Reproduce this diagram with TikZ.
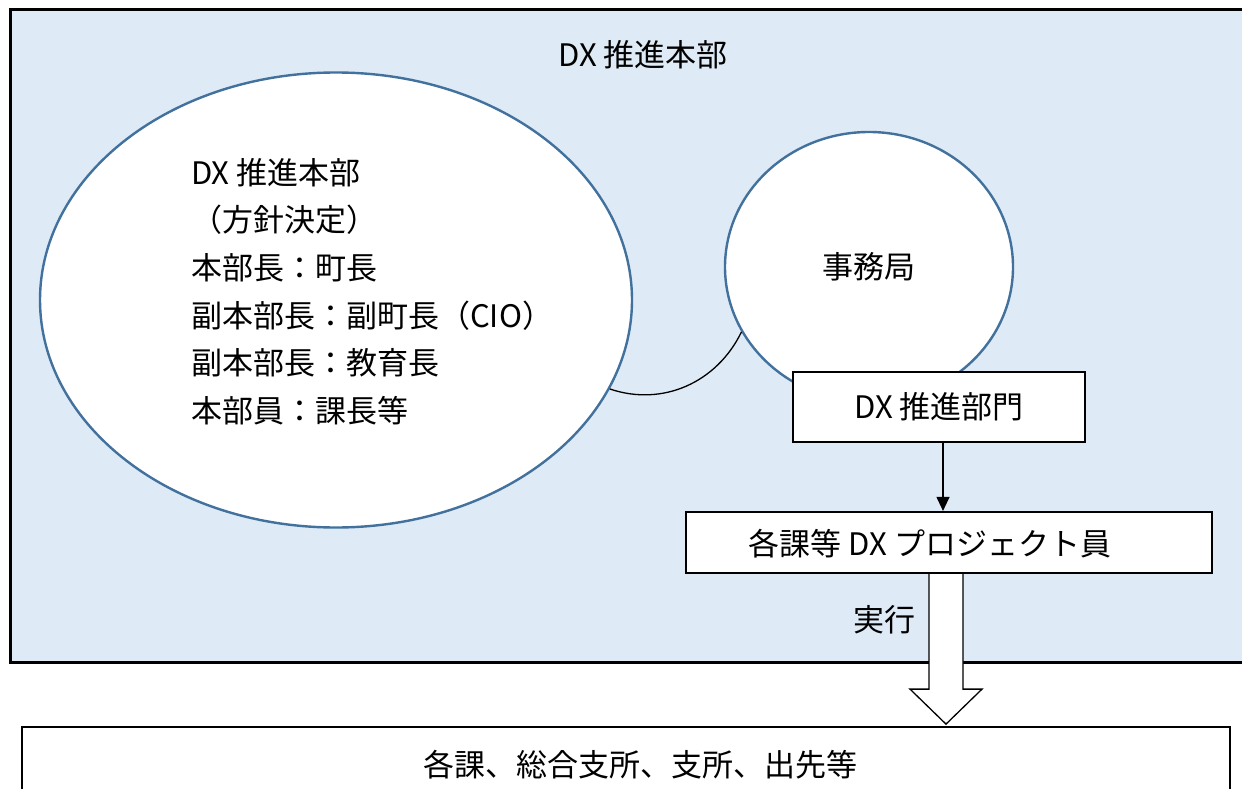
\documentclass[tikz,border=0pt]{standalone}
\usepackage{fontspec}
\setmainfont{Noto Sans CJK JP}
\usetikzlibrary{shapes.geometric,arrows.meta,calc}
\definecolor{bgblue}{HTML}{DEEAF6}
\definecolor{edgeblue}{HTML}{41719C}
\begin{document}
\begin{tikzpicture}[x=1pt,y=-1pt,
  jfont/.style={font=\fontsize{31}{47.6}\selectfont},
  rectbox/.style={draw=black,line width=2.2pt,fill=white,inner sep=0pt},
  blueell/.style={ellipse,draw=edgeblue,line width=2.4pt,fill=white,inner sep=0pt},
  plain/.style={inner sep=0pt}]
\useasboundingbox (0,0) rectangle (1242,789);
% outer area
\node[draw=black,line width=3pt,fill=bgblue,minimum width=1260,minimum height=653,anchor=north west,inner sep=0pt] (hq) at (9,8) {};
\node[jfont,plain] (title) at (643,55) {DX 推進本部};
% big ellipse
\node[blueell,minimum width=592,minimum height=455] (ell) at (336,300) {};
\node[jfont,plain,align=left,anchor=north west] (elltext) at (191,158)
  {DX 推進本部\\（方針決定）\\本部長：町長\\副本部長：副町長（CIO）\\副本部長：教育長\\本部員：課長等};
% secretariat circle
\node[blueell,minimum width=288,minimum height=270,jfont] (jim) at (869,267) {事務局};
% connecting curve
\draw[line width=1.3pt] (ell.-18.6) .. controls +(53,18) and +(-24.5,50.4) .. (jim.207.8);
% DX promotion dept
\node[rectbox,minimum width=292,minimum height=70,jfont] (b1) at (939,407) {DX 推進部門};
% project members
\node[rectbox,minimum width=526,minimum height=61] (b2) at (949,542.5) {};
\node[jfont,plain] (b2text) at (930,544) {各課等 DX プロジェクト員};
\draw[line width=1.2pt,-{Triangle[length=14pt,width=13pt]}] ([xshift=4pt]b1.south) -- ([xshift=4pt]b1.south |- b2.north);
% bottom box
\node[rectbox,minimum width=1208,minimum height=90,anchor=north west] (bot) at (21,726) {};
\node[jfont,plain] (bottext) at (640,765) {各課、総合支所、支所、出先等};
% execute label
\node[jfont,plain] (exec) at (884,620) {実行};
% hollow arrow
\coordinate (as) at ([xshift=-3pt]b2.south);
\draw[fill=white,line width=1.3pt,line join=miter]
  ($(as)+(-17,0)$) -- ($(as)+(-17,115)$) -- ($(as)+(-36,115)$) -- ($(as)+(0,150)$)
  -- ($(as)+(36,115)$) -- ($(as)+(17,115)$) -- ($(as)+(17,0)$);
\end{tikzpicture}
\end{document}
